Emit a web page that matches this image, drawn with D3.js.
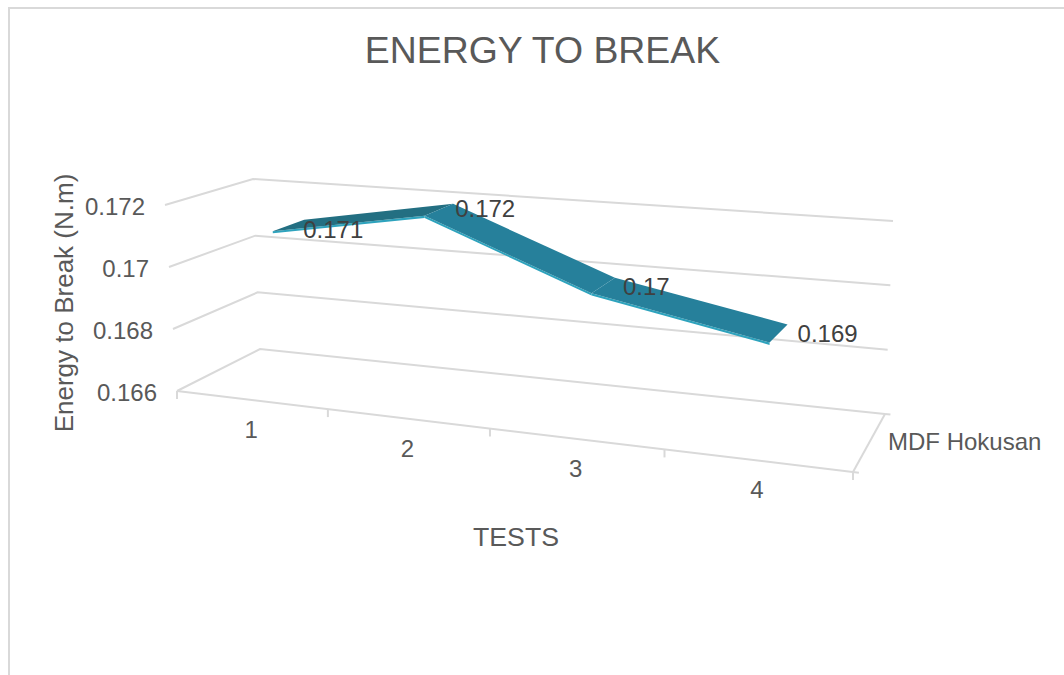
<!DOCTYPE html>
<html>
<head>
<meta charset="utf-8">
<script src="https://cdn.jsdelivr.net/npm/d3@7"></script>
<style>
  html, body { margin: 0; padding: 0; background: #fff; overflow: hidden; }
  text { font-family: "Liberation Sans", Arial, sans-serif; }
</style>
</head>
<body>
<div id="app"></div>
<script>
const categories = ["1", "2", "3", "4"];
const values = [0.171, 0.1719, 0.1699, 0.1689];
const valueLabels = ["0.171", "0.172", "0.17", "0.169"];
const valueTicks = [0.166, 0.168, 0.17, 0.172];
const tickLabels = ["0.166", "0.168", "0.17", "0.172"];
const seriesName = "MDF Hokusan";

const width = 1064;
const height = 675;

const svg = d3
  .select("#app")
  .append("svg")
  .attr("width", width)
  .attr("height", height);

// chart frame, cut by the page on the right and bottom
svg
  .append("path")
  .attr("d", "M9,675V8H1064")
  .attr("fill", "none")
  .attr("stroke", "#d9d9d9")
  .attr("stroke-width", 2);

// the 3d box: screen corners of the walls at the lowest and highest tick
const corners = {
  frontLeft: [[177, 391], [165, 205]],
  frontRight: [[853, 472], [842, 262]],
  backLeft: [[260, 349], [253, 179]],
  backRight: [[885, 414], [893, 221]],
};

const v = d3.scaleLinear().domain([0.166, 0.172]).range([0, 1]);
const t = d3.scaleLinear().domain([0, categories.length]).range([0, 1]);
// the front edge ticks get wider to the right
const persp = (a) => (0.862 * a) / (1 - 0.138 * a);

const mix = (a, b, k) => [a[0] + (b[0] - a[0]) * k, a[1] + (b[1] - a[1]) * k];

const project = (pos, value, depth) => {
  const u = persp(t(pos));
  const k = v(value);
  const front = mix(
    mix(corners.frontLeft[0], corners.frontLeft[1], k),
    mix(corners.frontRight[0], corners.frontRight[1], k),
    u
  );
  const back = mix(
    mix(corners.backLeft[0], corners.backLeft[1], k),
    mix(corners.backRight[0], corners.backRight[1], k),
    u
  );
  return mix(front, back, depth);
};

const line = d3.line();
const grid = svg.append("g").attr("fill", "none").attr("stroke", "#d9d9d9").attr("stroke-width", 2);

valueTicks.forEach((d) => {
  grid
    .append("path")
    .attr("d", line([project(0, d, 0), project(0, d, 1), project(categories.length, d, 1)]));
});

// floor front edge, side edge and tick marks
const floorMin = valueTicks[0];
const stub = categories.length + 0.03;
grid.append("path").attr("d", line([project(0, floorMin, 0), project(stub, floorMin, 0)]));
grid.append("path").attr("d", line([project(categories.length, floorMin, 1), project(stub, floorMin, 1)]));
grid.append("path").attr("d", line([project(categories.length, floorMin, 0), project(categories.length, floorMin, 1)]));
d3.range(categories.length + 1).forEach((i) => {
  const p = project(i, floorMin, 0);
  grid.append("path").attr("d", line([p, [p[0], p[1] + 8]]));
});

// ribbon
const depthFront = 0.38;
const depthBack = 0.76;
const ribbon = svg.append("g");
const edgeDrop = 0.00007;

values.slice(0, -1).forEach((d, i) => {
  const d2 = values[i + 1];
  ribbon
    .append("path")
    .attr("fill", "#2ea3bd")
    .attr("d", line([
      project(i + 0.5, d, depthFront),
      project(i + 1.5, d2, depthFront),
      project(i + 1.5, d2 - edgeDrop, depthFront),
      project(i + 0.5, d - edgeDrop, depthFront),
    ]) + "Z");
});
values.slice(0, -1).forEach((d, i) => {
  const d2 = values[i + 1];
  ribbon
    .append("path")
    .attr("fill", d2 > d ? "#236f82" : "#26809b")
    .attr("d", line([
      project(i + 0.5, d, depthFront),
      project(i + 0.5, d, depthBack),
      project(i + 1.5, d2, depthBack),
      project(i + 1.5, d2, depthFront),
    ]) + "Z");
});

// value labels sit next to the back edge of the ribbon
const labelOffsets = [[-1, 18], [2, 13], [8, 17], [10, 18]];
svg
  .append("g")
  .selectAll("text")
  .data(values)
  .join("text")
  .attr("x", (d, i) => project(i + 0.5, d, depthBack)[0] + labelOffsets[i][0])
  .attr("y", (d, i) => project(i + 0.5, d, depthBack)[1] + labelOffsets[i][1])
  .attr("font-size", 24)
  .attr("fill", "#404040")
  .text((d, i) => valueLabels[i]);

// value axis labels
svg
  .append("g")
  .selectAll("text")
  .data(valueTicks)
  .join("text")
  .attr("x", (d) => project(0, d, 0)[0] - 20)
  .attr("y", (d) => project(0, d, 0)[1] + 10)
  .attr("text-anchor", "end")
  .attr("font-size", 24)
  .attr("fill", "#595959")
  .text((d, i) => tickLabels[i]);

// category labels
svg
  .append("g")
  .selectAll("text")
  .data(categories)
  .join("text")
  .attr("x", (d, i) => project(i + 0.5, floorMin, 0)[0])
  .attr("y", (d, i) => project(i + 0.5, floorMin, 0)[1] + 38)
  .attr("text-anchor", "middle")
  .attr("font-size", 24)
  .attr("fill", "#595959")
  .text((d) => d);

svg
  .append("text")
  .attr("x", 888)
  .attr("y", 450)
  .attr("font-size", 24)
  .attr("fill", "#595959")
  .text(seriesName);

svg
  .append("text")
  .attr("x", 542.5)
  .attr("y", 63)
  .attr("text-anchor", "middle")
  .attr("font-size", 37.4)
  .attr("fill", "#595959")
  .text("ENERGY TO BREAK");

svg
  .append("text")
  .attr("x", 516)
  .attr("y", 546)
  .attr("text-anchor", "middle")
  .attr("font-size", 26.7)
  .attr("fill", "#595959")
  .text("TESTS");

svg
  .append("text")
  .attr("transform", "translate(73,303) rotate(-90)")
  .attr("text-anchor", "middle")
  .attr("font-size", 26)
  .attr("fill", "#595959")
  .text("Energy to Break (N.m)");
</script>
</body>
</html>
